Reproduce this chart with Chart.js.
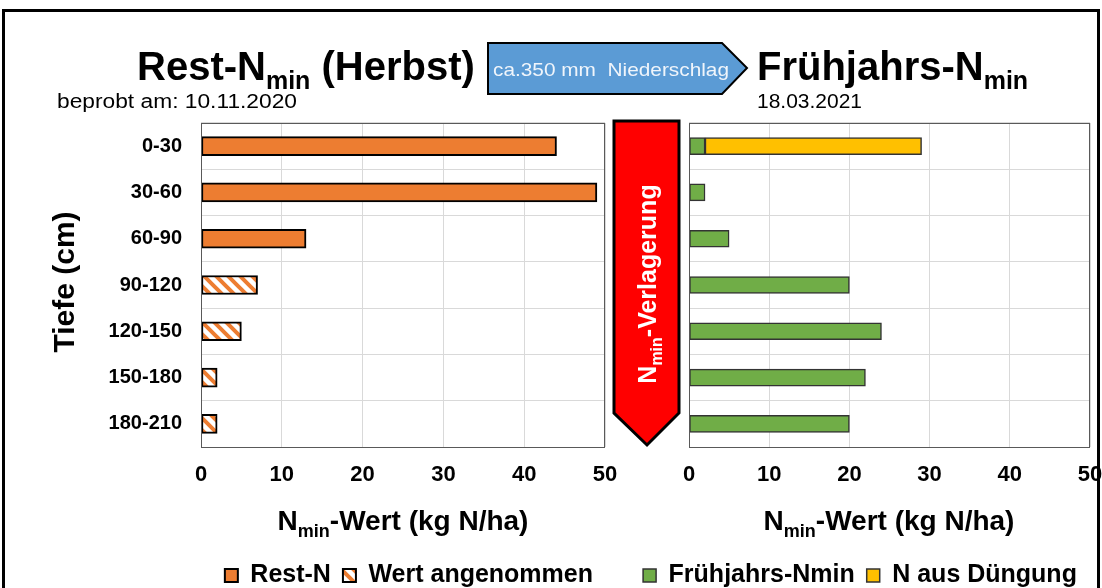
<!DOCTYPE html>
<html>
<head>
<meta charset="utf-8">
<script src="https://cdn.jsdelivr.net/npm/chart.js@4.4.0/dist/chart.umd.min.js"></script>
<style>
  body { margin: 0; width: 1102px; height: 588px; position: relative; overflow: hidden; background: #fff; font-family: "Liberation Sans", Arial, sans-serif; }
  .box { position: absolute; top: 0; height: 598px; }
  #left-box { left: 0; width: 620px; }
  #right-box { left: 630px; width: 474px; }
  svg { position: absolute; left: 0; top: 0; pointer-events: none; }
</style>
</head>
<body>
<div class="box" id="left-box"><canvas id="herbst-graph"></canvas></div>
<div class="box" id="right-box"><canvas id="fruehjahr-graph"></canvas></div>
<svg width="1102" height="588" font-family="Liberation Sans, Arial, sans-serif">
  <rect x="3.5" y="10.5" width="1095" height="600" fill="none" stroke="#000" stroke-width="3"/>
  <!-- Titel -->
  <text x="137" y="80" font-size="40" font-weight="bold">Rest-N<tspan font-size="25" dy="9">min</tspan><tspan dy="-9"> (Herbst)</tspan></text>
  <text x="57" y="108" font-size="20" textLength="240" lengthAdjust="spacingAndGlyphs">beprobt am: 10.11.2020</text>
  <text x="757" y="80" font-size="40" font-weight="bold">Frühjahrs-N<tspan font-size="25" dy="9">min</tspan></text>
  <text x="757" y="108" font-size="20" textLength="105" lengthAdjust="spacingAndGlyphs">18.03.2021</text>
  <!-- Niederschlag Pfeil -->
  <polygon points="488,43 722,43 747,68 722,94 488,94" fill="#5B9BD5" stroke="#000" stroke-width="2"/>
  <text x="493" y="76" font-size="19" fill="#f0f5fb" xml:space="preserve" textLength="236" lengthAdjust="spacingAndGlyphs">ca.350 mm  Niederschlag</text>
  <!-- Verlagerung Pfeil -->
  <polygon points="614,121 679,121 679,413 647,445 614,413" fill="#FF0000" stroke="#000" stroke-width="3"/>
  <text transform="translate(656,284) rotate(-90)" text-anchor="middle" font-size="25" font-weight="bold" fill="#fff">N<tspan font-size="16" dy="6">min</tspan><tspan dy="-6">-Verlagerung</tspan></text>
  <!-- Achsentitel -->
  <text transform="translate(74,282) rotate(-90)" text-anchor="middle" font-size="30" font-weight="bold">Tiefe (cm)</text>
  <text x="403" y="530" text-anchor="middle" font-size="28" font-weight="bold">N<tspan font-size="18" dy="7">min</tspan><tspan dy="-7">-Wert (kg N/ha)</tspan></text>
  <text x="889" y="530" text-anchor="middle" font-size="28" font-weight="bold">N<tspan font-size="18" dy="7">min</tspan><tspan dy="-7">-Wert (kg N/ha)</tspan></text>
</svg>
<script>
const depthLabels = ['0-30', '30-60', '60-90', '90-120', '120-150', '150-180', '180-210'];
const restN = [44, 49, 13, null, null, null, null];
const restNAngenommen = [null, null, null, 7, 5, 2, 2];
const fruehjahrsNmin = [2, 2, 5, 20, 24, 22, 20];
const nAusDuengung = [27, null, null, null, null, null, null];
const xMin = 0, xMax = 50, xStep = 10;

const orange = '#ED7D31';
const green = '#70AD47';
const yellow = '#FFC000';

// schraffur fuer angenommene werte
function hatch(color) {
  const c = document.createElement('canvas');
  c.width = 12; c.height = 12;
  const g = c.getContext('2d');
  g.fillStyle = '#fff';
  g.fillRect(0, 0, 12, 12);
  g.strokeStyle = color;
  g.lineWidth = 4;
  g.beginPath();
  g.moveTo(-6, -6); g.lineTo(18, 18);
  g.moveTo(6, -6); g.lineTo(18, 6);
  g.moveTo(-6, 6); g.lineTo(6, 18);
  g.stroke();
  return g.createPattern(c, 'repeat');
}

// rahmen um plotbereich
const frame = {
  id: 'frame',
  afterDraw(chart) {
    const a = chart.chartArea, ctx = chart.ctx;
    ctx.save();
    ctx.strokeStyle = '#595959';
    ctx.lineWidth = 1;
    ctx.strokeRect(a.left + 0.5, a.top + 0.5, a.right - a.left - 1, a.bottom - a.top);
    ctx.restore();
  }
};

const tickFont = { family: 'Liberation Sans', size: 22, weight: 'bold' };
const legendFont = { family: 'Liberation Sans', size: 25, weight: 'bold' };

function xScale() {
  return {
    stacked: true,
    min: xMin, max: xMax,
    ticks: { stepSize: xStep, color: '#000', font: tickFont, padding: 15 },
    grid: { color: '#d9d9d9', drawTicks: false },
    border: { display: false },
    afterFit: s => { s.height = 104; s.paddingLeft = 0; s.paddingRight = 0; }
  };
}

function legendOpt(align, pad) {
  return {
    position: 'bottom',
    align: align,
    labels: { color: '#000', font: legendFont, boxWidth: 13, boxHeight: 13, padding: pad }
  };
}

new Chart(document.getElementById('herbst-graph'), { //Rest-N Herbst
  type: 'bar',
  data: {
    labels: depthLabels,
    datasets: [{
      label: 'Rest-N',
      data: restN,
      backgroundColor: orange,
      borderColor: '#000',
      borderWidth: 2,
      borderSkipped: false,
      barThickness: 19
    }, {
      label: 'Wert angenommen',
      data: restNAngenommen,
      backgroundColor: hatch(orange),
      borderColor: '#000',
      borderWidth: 2,
      borderSkipped: false,
      barThickness: 19
    }]
  },
  options: {
    indexAxis: 'y',
    responsive: true,
    maintainAspectRatio: false,
    animation: false,
    layout: { padding: { top: 123, right: 15, left: 0, bottom: 0 } },
    plugins: { legend: legendOpt('end', 12), tooltip: { enabled: false } },
    scales: {
      x: xScale(),
      y: {
        stacked: true,
        ticks: { color: '#000', font: { family: 'Liberation Sans', size: 20, weight: 'bold' }, padding: 19 },
        grid: { color: '#d9d9d9', offset: true, drawTicks: false },
        border: { display: false },
        afterFit: s => { s.width = 201; }
      }
    }
  },
  plugins: [frame]
});

new Chart(document.getElementById('fruehjahr-graph'), { //Fruehjahrs-Nmin
  type: 'bar',
  data: {
    labels: depthLabels,
    datasets: [{
      label: 'Frühjahrs-Nmin',
      data: fruehjahrsNmin,
      backgroundColor: green,
      borderColor: '#333',
      borderWidth: 1.5,
      borderSkipped: false,
      barThickness: 17
    }, {
      label: 'N aus Düngung',
      data: nAusDuengung,
      backgroundColor: yellow,
      borderColor: '#333',
      borderWidth: 1.5,
      borderSkipped: false,
      barThickness: 17
    }]
  },
  options: {
    indexAxis: 'y',
    responsive: true,
    maintainAspectRatio: false,
    animation: false,
    layout: { padding: { top: 123, right: 14, left: 0, bottom: 0 } },
    plugins: { legend: legendOpt('center', 12), tooltip: { enabled: false } },
    scales: {
      x: xScale(),
      y: {
        stacked: true,
        ticks: { display: false },
        grid: { color: '#d9d9d9', offset: true, drawTicks: false },
        border: { display: false },
        afterFit: s => { s.width = 59; }
      }
    }
  },
  plugins: [frame]
});
</script>
</body>
</html>
